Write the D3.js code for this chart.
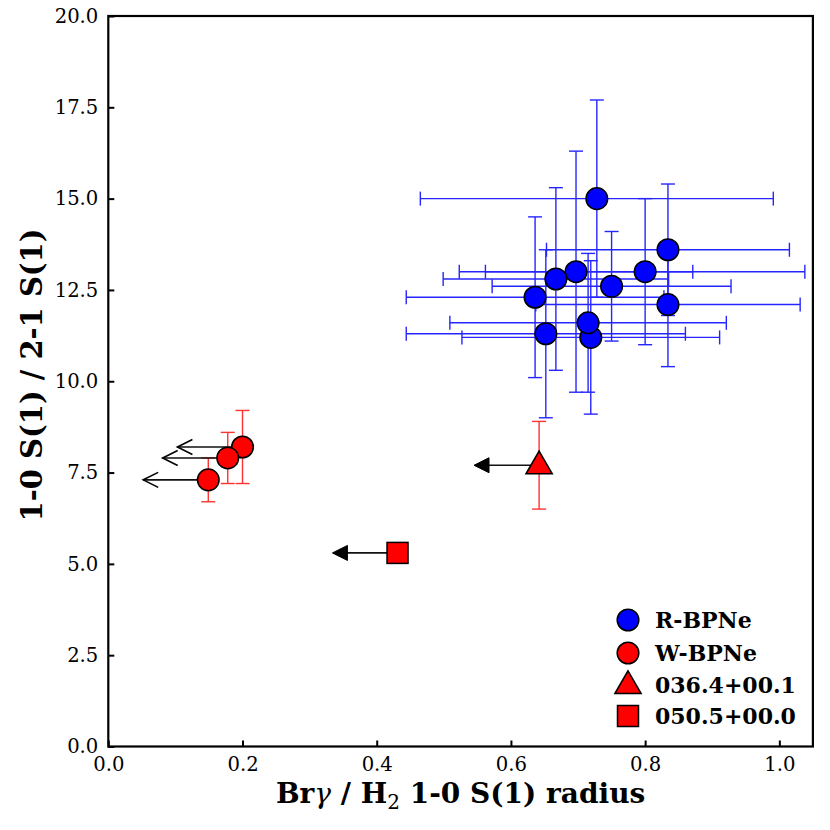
<!DOCTYPE html>
<html>
<head>
<meta charset="utf-8">
<script src="https://cdn.jsdelivr.net/npm/d3@7"></script>
<style>
  body { margin: 0; background: #fff; }
  svg { display: block; }
</style>
</head>
<body>
<svg id="container" width="830" height="830"></svg>
<script>
// R-BPNe points (blue circles, x and y error bars)
const rX    = [0.728, 0.834, 0.697, 0.800, 0.667, 0.750, 0.636, 0.834, 0.719, 0.715, 0.652]
const rY    = [15.0, 13.6, 13.0, 13.0, 12.8, 12.6, 12.3, 12.1, 11.2, 11.6, 11.3]
const rXerr = [0.263, 0.181, 0.174, 0.238, 0.168, 0.178, 0.192, 0.197, 0.192, 0.206, 0.208]
const rYerr = [2.7, 1.8, 3.3, 2.0, 2.5, 1.5, 2.2, 1.7, 2.1, 1.9, 2.3]

// W-BPNe points (red circles, upper limits in x)
const wX    = [0.200, 0.178, 0.149]
const wY    = [8.2, 7.9, 7.3]
const wYerr = [1.0, 0.7, 0.6]

// the two single objects
const triX = 0.642, triY = 7.7, triYerr = 1.2
const sqX = 0.431, sqY = 5.3

// length of the upper limit arrows, in x units
const arrowLen = 0.097

const xTicks = [0.0, 0.2, 0.4, 0.6, 0.8, 1.0]
const yTicks = [0.0, 2.5, 5.0, 7.5, 10.0, 12.5, 15.0, 17.5, 20.0]
const legendLabels = ["R-BPNe", "W-BPNe", "036.4+00.1", "050.5+00.0"]

const svg = d3.select("#container")

//Plot box
const plotL = 108.3, plotR = 812.9, plotT = 16, plotB = 746.5
const x = d3.scaleLinear().domain([0, 1.05]).range([plotL, plotR])
const y = d3.scaleLinear().domain([0, 20]).range([plotB, plotT])

const serif = "'DejaVu Serif', serif"
const cap = 7
const markR = 10.8

drawAxes()
drawBlue()
drawRed()
drawLegend()

function drawAxes(){
  const xAxis = d3.axisBottom(x).tickValues(xTicks).tickFormat(d3.format(".1f"))
    .tickSizeInner(-6).tickSizeOuter(0).tickPadding(11)
  const yAxis = d3.axisLeft(y).tickValues(yTicks).tickFormat(d3.format(".1f"))
    .tickSizeInner(-6).tickSizeOuter(0).tickPadding(10)

  const gx = svg.append('g').attr('transform', `translate(0,${plotB})`).call(xAxis)
  const gy = svg.append('g').attr('transform', `translate(${plotL},0)`).call(yAxis)
  ;[gx, gy].forEach(g => {
    g.select('.domain').remove()
    g.selectAll('.tick line').attr('stroke', '#000').attr('stroke-width', 2)
    g.selectAll('.tick text')
      .attr('fill', '#000')
      .attr('font-family', serif)
      .attr('font-size', 19.6)
  })

  //frame
  svg.append('rect')
    .attr('x', plotL).attr('y', plotT)
    .attr('width', plotR - plotL).attr('height', plotB - plotT)
    .attr('fill', 'none')
    .attr('stroke', '#000')
    .attr('stroke-width', 2.2)

  const xl = svg.append('text')
    .attr('x', (plotL + plotR) / 2)
    .attr('y', 803)
    .attr('text-anchor', 'middle')
    .attr('font-family', serif)
    .attr('font-weight', 'bold')
    .attr('font-size', 28)
  xl.append('tspan').text('Br')
  xl.append('tspan').attr('font-style', 'italic').attr('font-weight', 'normal').text('γ')
  xl.append('tspan').text(' / H')
  xl.append('tspan').attr('font-size', 20).attr('font-weight', 'normal').attr('dy', 6).text('2')
  xl.append('tspan').attr('dy', -6).text(' 1-0 S(1) radius')

  svg.append('text')
    .attr('transform', `translate(42,375) rotate(-90)`)
    .attr('text-anchor', 'middle')
    .attr('font-family', serif)
    .attr('font-weight', 'bold')
    .attr('font-size', 29)
    .text('1-0 S(1) / 2-1 S(1)')
}

// draws one error bar segment with caps at both ends
function errBar(g, x1, y1, x2, y2, color){
  g.append('line').attr('x1', x1).attr('y1', y1).attr('x2', x2).attr('y2', y2)
    .attr('stroke', color).attr('stroke-width', 1.4)
  const vertical = x1 === x2
  ;[[x1, y1], [x2, y2]].forEach(([px, py]) => {
    g.append('line')
      .attr('x1', vertical ? px - cap : px).attr('x2', vertical ? px + cap : px)
      .attr('y1', vertical ? py : py - cap).attr('y2', vertical ? py : py + cap)
      .attr('stroke', color).attr('stroke-width', 1.4)
  })
}

function drawBlue(){
  const bars = svg.append('g').attr('opacity', 0.85)
  rX.forEach((d, i) => {
    errBar(bars, x(d - rXerr[i]), y(rY[i]), x(d + rXerr[i]), y(rY[i]), '#0000ff')
    errBar(bars, x(d), y(rY[i] - rYerr[i]), x(d), y(rY[i] + rYerr[i]), '#0000ff')
  })
  svg.append('g').selectAll('circle')
    .data(rX)
    .join('circle')
      .attr('cx', d => x(d))
      .attr('cy', (d, i) => y(rY[i]))
      .attr('r', markR)
      .attr('fill', '#0000ff')
      .attr('stroke', '#000')
      .attr('stroke-width', 1.5)
}

// upper limit arrow pointing left, open or filled head
function arrow(g, px, py, filled){
  const tip = x(px - arrowLen)
  g.append('line')
    .attr('x1', x(px)).attr('y1', y(py)).attr('x2', filled ? tip + 10 : tip).attr('y2', y(py))
    .attr('stroke', '#111').attr('stroke-width', 1.6)
  const path = d3.path()
  path.moveTo(tip + 15, y(py) - 7.5)
  path.lineTo(tip, y(py))
  path.lineTo(tip + 15, y(py) + 7.5)
  if (filled) path.closePath()
  g.append('path')
    .attr('d', path)
    .attr('fill', filled ? '#000' : 'none')
    .attr('stroke', '#000')
    .attr('stroke-width', filled ? 1 : 1.6)
}

function drawRed(){
  const g = svg.append('g')
  const bars = g.append('g').attr('opacity', 0.8)
  wX.forEach((d, i) => {
    errBar(bars, x(d), y(wY[i] - wYerr[i]), x(d), y(wY[i] + wYerr[i]), '#ff0000')
  })
  errBar(bars, x(triX), y(triY - triYerr), x(triX), y(triY + triYerr), '#ff0000')

  wX.forEach((d, i) => arrow(g, d, wY[i], false))
  arrow(g, triX, triY, true)
  arrow(g, sqX, sqY, true)

  g.append('g').selectAll('circle')
    .data(wX)
    .join('circle')
      .attr('cx', d => x(d))
      .attr('cy', (d, i) => y(wY[i]))
      .attr('r', markR)
      .attr('fill', '#ff0000')
      .attr('stroke', '#000')
      .attr('stroke-width', 1.5)

  g.append('path')
    .attr('d', d3.symbol(d3.symbolTriangle, 300)())
    .attr('transform', `translate(${x(triX)},${y(triY) + 1})`)
    .attr('fill', '#ff0000').attr('stroke', '#000').attr('stroke-width', 1.5)

  g.append('rect')
    .attr('x', x(sqX) - 10.5).attr('y', y(sqY) - 10.5)
    .attr('width', 21).attr('height', 21)
    .attr('fill', '#ff0000').attr('stroke', '#000').attr('stroke-width', 1.5)
}

function drawLegend(){
  const rows = [620, 653, 685, 716]
  const lg = svg.append('g')
  const mx = 628
  legendLabels.forEach((label, i) => {
    const ry = rows[i]
    if (i < 2) {
      lg.append('circle').attr('cx', mx).attr('cy', ry).attr('r', markR)
        .attr('fill', i === 0 ? '#0000ff' : '#ff0000').attr('stroke', '#000').attr('stroke-width', 1.5)
    } else if (i === 2) {
      lg.append('path').attr('d', d3.symbol(d3.symbolTriangle, 300)())
        .attr('transform', `translate(${mx},${ry + 1})`)
        .attr('fill', '#ff0000').attr('stroke', '#000').attr('stroke-width', 1.5)
    } else {
      lg.append('rect').attr('x', mx - 10.5).attr('y', ry - 10.5).attr('width', 21).attr('height', 21)
        .attr('fill', '#ff0000').attr('stroke', '#000').attr('stroke-width', 1.5)
    }
    lg.append('text')
      .attr('x', 655).attr('y', ry + 7.5)
      .attr('font-family', serif)
      .attr('font-weight', 'bold')
      .attr('font-size', 22)
      .text(label)
  })
}
</script>
</body>
</html>
